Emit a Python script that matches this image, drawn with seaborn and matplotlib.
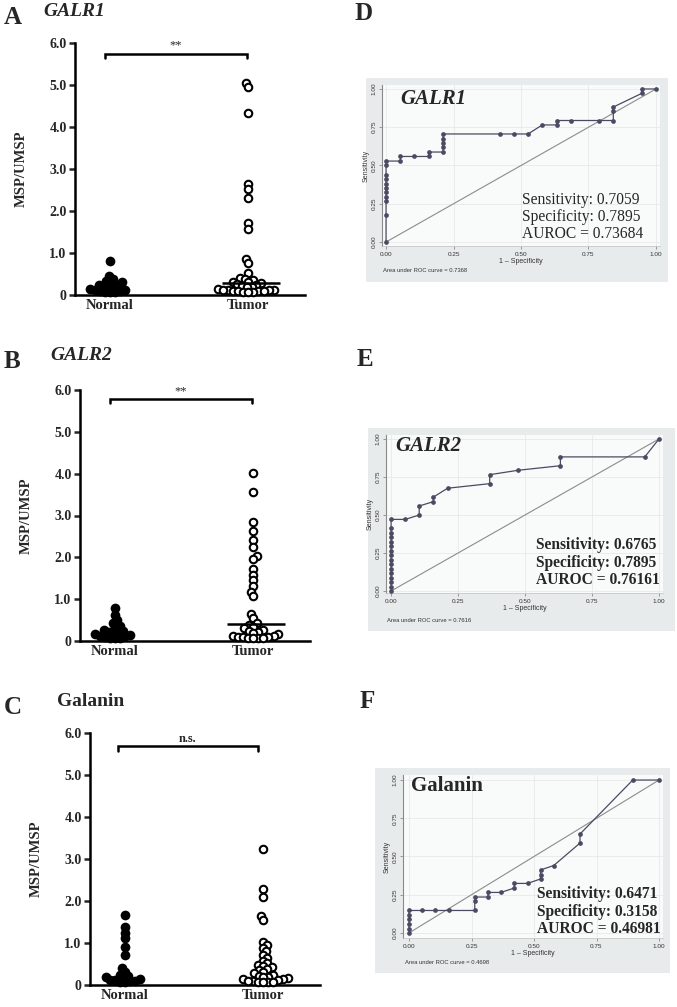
import numpy as np
import pandas as pd
import matplotlib
matplotlib.use("Agg")
import matplotlib.pyplot as plt
import seaborn as sns
from matplotlib.patches import Rectangle

# ---------------- data ----------------
groups = ["Normal", "Tumor"]

galr1_normal = [0.82, 0.45, 0.38, 0.34, 0.30, 0.28, 0.25, 0.23, 0.21, 0.19,
                0.17, 0.15, 0.13, 0.12, 0.10, 0.09, 0.08, 0.07, 0.06]
galr1_tumor = [5.05, 4.95, 4.33, 2.64, 2.52, 2.32, 1.72, 1.58, 0.86, 0.76,
               0.53, 0.40, 0.38, 0.35, 0.32, 0.30, 0.28, 0.27, 0.25, 0.22,
               0.20, 0.18, 0.15, 0.13, 0.12, 0.12, 0.11, 0.10, 0.10, 0.10,
               0.09, 0.08, 0.08, 0.07]

galr2_normal = [0.80, 0.62, 0.50, 0.42, 0.36, 0.31, 0.27, 0.24, 0.21, 0.19,
                0.17, 0.16, 0.14, 0.12, 0.11, 0.10, 0.08, 0.07, 0.06]
galr2_tumor = [4.02, 3.55, 2.85, 2.62, 2.42, 2.25, 2.02, 1.95, 1.72, 1.58,
               1.45, 1.32, 1.18, 1.08, 0.65, 0.55, 0.42, 0.38, 0.34, 0.30,
               0.27, 0.25, 0.22, 0.20, 0.16, 0.13, 0.11, 0.10, 0.10, 0.09,
               0.08, 0.08, 0.07, 0.06]

galanin_normal = [1.67, 1.39, 1.23, 1.11, 0.90, 0.72, 0.41, 0.32, 0.25, 0.21,
                  0.19, 0.17, 0.15, 0.13, 0.12, 0.10, 0.09, 0.08, 0.06]
galanin_tumor = [3.25, 2.28, 2.10, 1.65, 1.55, 1.03, 0.95, 0.88, 0.80, 0.72,
                 0.65, 0.58, 0.52, 0.48, 0.45, 0.42, 0.38, 0.35, 0.30, 0.28,
                 0.25, 0.22, 0.20, 0.18, 0.16, 0.15, 0.14, 0.12, 0.10, 0.10,
                 0.08, 0.08, 0.07, 0.06]

yticks_scatter = [0, 1, 2, 3, 4, 5, 6]
ytick_labels_scatter = ["0", "1.0", "2.0", "3.0", "4.0", "5.0", "6.0"]

# ROC curves (1 - specificity, sensitivity)
galr1_fpr = [0, 0, 0, 0, 0, 0, 0, 0, 0, 0, 0, 0.053, 0.053, 0.105, 0.158, 0.158,
             0.211, 0.211, 0.211, 0.211, 0.211, 0.421, 0.474, 0.526, 0.579,
             0.632, 0.632, 0.684, 0.789, 0.842, 0.842, 0.842, 0.947, 0.947, 1.0]
galr1_tpr = [0, 0.176, 0.265, 0.294, 0.324, 0.353, 0.382, 0.412, 0.441, 0.500,
             0.529, 0.529, 0.559, 0.559, 0.559, 0.588, 0.588, 0.618, 0.647,
             0.676, 0.706, 0.706, 0.706, 0.706, 0.765, 0.765, 0.794, 0.794,
             0.794, 0.794, 0.853, 0.882, 0.971, 1.0, 1.0]

galr2_fpr = [0, 0, 0, 0, 0, 0, 0, 0, 0, 0, 0, 0, 0, 0, 0, 0, 0.053, 0.105, 0.105,
             0.158, 0.158, 0.211, 0.368, 0.368, 0.474, 0.632, 0.632, 0.947, 1.0]
galr2_tpr = [0, 0.029, 0.059, 0.088, 0.118, 0.147, 0.176, 0.206, 0.235, 0.265,
             0.294, 0.324, 0.353, 0.382, 0.412, 0.471, 0.471, 0.500, 0.559,
             0.588, 0.618, 0.676, 0.706, 0.765, 0.794, 0.824, 0.882, 0.882, 1.0]

galanin_fpr = [0, 0, 0, 0, 0, 0, 0.053, 0.105, 0.158, 0.263, 0.263, 0.263,
               0.316, 0.316, 0.368, 0.421, 0.421, 0.474, 0.526, 0.526, 0.526,
               0.579, 0.684, 0.684, 0.895, 1.0]
galanin_tpr = [0, 0.029, 0.059, 0.088, 0.118, 0.147, 0.147, 0.147, 0.147, 0.147,
               0.206, 0.235, 0.235, 0.265, 0.265, 0.294, 0.324, 0.324, 0.353,
               0.382, 0.412, 0.441, 0.588, 0.647, 1.0, 1.0]

roc_ticks = [0, 0.25, 0.5, 0.75, 1.0]
roc_ticklabels = ["0.00", "0.25", "0.50", "0.75", "1.00"]

# ---------------- style ----------------
sns.set_theme(style="ticks")
plt.rcParams["font.family"] = ["Liberation Serif", "DejaVu Serif"]
SANS = ["Liberation Sans", "DejaVu Sans"]

W, H = 677, 1007
fig = plt.figure(figsize=(W / 100, H / 100), dpi=100)
fig.patch.set_facecolor("white")


def fx(x):
    return x / W


def fy(y):
    return 1 - y / H


def scatter_panel(rect, normal, tumor, bracket, sig, sig_bold, median_line):
    ax = fig.add_axes(rect)
    df = pd.DataFrame({
        "group": ["Normal"] * len(normal) + ["Tumor"] * len(tumor),
        "value": normal + tumor,
    })
    # swarm laid out with compact markers, then drawn with larger ones so
    # that neighbouring points overlap as in the original figure
    sns.swarmplot(data=df, x="group", y="value", order=groups, color="black",
                  size=3.5, linewidth=0, ax=ax, warn_thresh=1.0)
    ax.set_ylim(0, 6)
    ax.set_xlim(-0.254, 1.41)
    fig.canvas.draw()
    for c in ax.collections:
        if "draw" in c.__dict__:
            del c.draw
        c.set_clip_on(False)
        c.set_zorder(4)
    ncol = ax.collections[0]
    ncol.set_sizes([7.0 ** 2])
    tcol = ax.collections[1]
    tcol.set_facecolor("white")
    tcol.set_edgecolor("black")
    tcol.set_linewidth(1.5)
    tcol.set_sizes([5.4 ** 2])
    if median_line:
        m = float(np.median(tumor))
        ax.hlines(m, 1 - 0.19, 1 + 0.23, color="black", lw=1.8, zorder=6)
    ax.set_yticks(yticks_scatter)
    ax.set_yticklabels(ytick_labels_scatter, fontweight="bold", fontsize=10)
    ax.set_xticks([0, 1])
    ax.set_xticklabels(groups, fontweight="bold", fontsize=10.5)
    ax.tick_params(axis="y", direction="out", length=4, width=1.8, pad=2)
    ax.tick_params(axis="x", length=0, pad=3)
    for s in ["top", "right"]:
        ax.spines[s].set_visible(False)
    for s in ["left", "bottom"]:
        ax.spines[s].set_linewidth(1.8)
        ax.spines[s].set_color("black")
    ax.set_xlabel("")
    ax.set_ylabel("MSP/UMSP", fontweight="bold", fontsize=10.5)
    ax.yaxis.set_label_coords(-0.204, 0.5)
    x0, x1, yb = bracket
    ax.plot([x0, x0, x1, x1], [yb - 0.1, yb, yb, yb - 0.1], color="black",
            lw=1.8, clip_on=False, solid_joinstyle="miter")
    ax.text((x0 + x1) / 2, yb + 0.04, sig, ha="center", va="bottom",
            fontsize=9, fontweight="bold" if sig_bold else "normal")
    return ax


def roc_panel(box, rect, xlim, ylim, fpr, tpr, title, title_style, title_xy,
              stats, stats_bold, stats_x, stats_y, auc_text, auc_xy):
    bx0, by0, bx1, by1 = box
    fig.add_artist(Rectangle((fx(bx0), fy(by1)), (bx1 - bx0) / W, (by1 - by0) / H,
                             transform=fig.transFigure, facecolor="#e7ebec",
                             edgecolor="none", zorder=-1))
    ax = fig.add_axes(rect)
    ax.set_facecolor("#f9fafa")
    ax.grid(True, color="#e4e6e7", lw=0.5)
    ax.plot([0, 1], [0, 1], color="#8c8c8c", lw=0.8, zorder=2)
    df = pd.DataFrame({"fpr": fpr, "tpr": tpr})
    sns.lineplot(data=df, x="fpr", y="tpr", sort=False, estimator=None,
                 color="#4a4b63", lw=0.9, marker="o", markersize=3.4,
                 markeredgewidth=0, ax=ax, zorder=3)
    ax.set_xlim(*xlim)
    ax.set_ylim(*ylim)
    ax.set_xticks(roc_ticks)
    ax.set_xticklabels(roc_ticklabels, fontsize=4.6, family=SANS, color="#333333")
    ax.set_yticks(roc_ticks)
    ax.set_yticklabels(roc_ticklabels, fontsize=4.6, family=SANS, color="#333333",
                       rotation=90, va="center")
    ax.tick_params(direction="out", length=2.5, width=0.5, color="#777777", pad=1.5)
    for s in ["top", "right"]:
        ax.spines[s].set_visible(False)
    ax.spines["left"].set_color("#8a8a8a")
    ax.spines["left"].set_linewidth(0.8)
    ax.spines["bottom"].set_color("#c8c8c8")
    ax.spines["bottom"].set_linewidth(0.6)
    ax.set_xlabel("1 \u2013 Specificity", fontsize=5, family=SANS, color="#333333",
                  labelpad=1)
    ax.set_ylabel("Sensitivity", fontsize=5, family=SANS, color="#333333", labelpad=1)
    fig.text(fx(title_xy[0]), fy(title_xy[1]), title, fontsize=15,
             fontweight="bold", style=title_style, ha="left", va="center")
    for t, yy in zip(stats, stats_y):
        fig.text(fx(stats_x), fy(yy), t, fontsize=11.2,
                 fontweight="bold" if stats_bold else "normal",
                 ha="left", va="center")
    fig.text(fx(auc_xy[0]), fy(auc_xy[1]), auc_text, fontsize=4.2, family=SANS,
             color="#333333", ha="left", va="center")
    return ax


# ---------------- left scatter panels ----------------
scatter_panel([fx(75), fy(295), 230 / W, 252 / H], galr1_normal, galr1_tumor,
              (-0.04, 0.99, 5.75), "**", False, True)
scatter_panel([fx(80), fy(641), 230 / W, 251 / H], galr2_normal, galr2_tumor,
              (-0.04, 0.99, 5.78), "**", False, True)
scatter_panel([fx(90), fy(985), 230 / W, 252 / H], galanin_normal, galanin_tumor,
              (-0.05, 0.96, 5.68), "n.s.", True, False)

# panel letters and titles (left)
fig.text(fx(4), fy(17), "A", fontsize=18, fontweight="bold", ha="left", va="center")
fig.text(fx(43), fy(12), "GALR1", fontsize=14, fontweight="bold", style="italic",
         ha="left", va="center")
fig.text(fx(4), fy(362), "B", fontsize=18, fontweight="bold", ha="left", va="center")
fig.text(fx(50), fy(355), "GALR2", fontsize=14, fontweight="bold", style="italic",
         ha="left", va="center")
fig.text(fx(4), fy(707), "C", fontsize=18, fontweight="bold", ha="left", va="center")
fig.text(fx(57), fy(701), "Galanin", fontsize=14, fontweight="bold",
         ha="left", va="center")

# ---------------- right ROC panels ----------------
roc_panel((366, 78, 668, 282), [fx(382), fy(246), 278 / W, 161 / H],
          (-0.015, 1.015), (-0.026, 1.026), galr1_fpr, galr1_tpr,
          "GALR1", "italic", (400, 99),
          ["Sensitivity: 0.7059", "Specificity: 0.7895", "AUROC = 0.73684"],
          False, 522, [200, 217, 234],
          "Area under ROC curve = 0.7368", (383, 270))

roc_panel((368, 428, 675, 631), [fx(386), fy(593), 277 / W, 158 / H],
          (-0.019, 1.015), (-0.013, 1.026), galr2_fpr, galr2_tpr,
          "GALR2", "italic", (395, 446),
          ["Sensitivity: 0.6765", "Specificity: 0.7895", "AUROC = 0.76161"],
          True, 536, [545, 563, 580],
          "Area under ROC curve = 0.7616", (387, 620))

roc_panel((375, 768, 670, 973), [fx(403), fy(938), 260 / W, 163 / H],
          (-0.024, 1.016), (-0.033, 1.033), galanin_fpr, galanin_tpr,
          "Galanin", "normal", (411, 786),
          ["Sensitivity: 0.6471", "Specificity: 0.3158", "AUROC = 0.46981"],
          True, 537, [894, 912, 929],
          "Area under ROC curve = 0.4698", (405, 962))

fig.text(fx(373), fy(13), "D", fontsize=18, fontweight="bold", ha="right", va="center")
fig.text(fx(373), fy(360), "E", fontsize=18, fontweight="bold", ha="right", va="center")
fig.text(fx(375), fy(701), "F", fontsize=18, fontweight="bold", ha="right", va="center")

fig.savefig("out.png", dpi=100)
